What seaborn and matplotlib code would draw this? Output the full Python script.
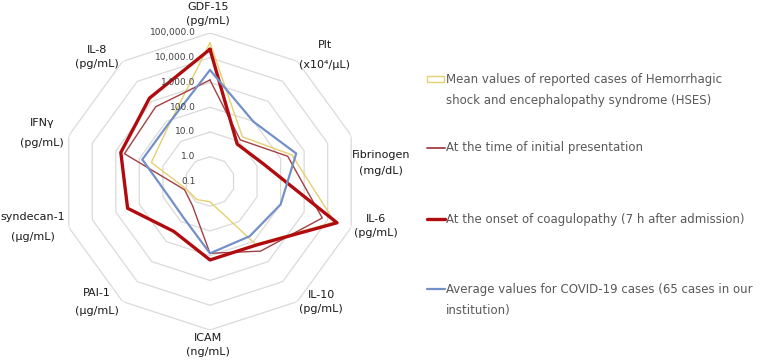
import numpy as np
import pandas as pd
import matplotlib.pyplot as plt
import seaborn as sns
from matplotlib.lines import Line2D
from matplotlib.patches import Rectangle
from matplotlib.ticker import NullLocator

# === Settings ===
sns.set_theme(style="white")
plt.rcParams['font.family'] = ['DejaVu Sans']

# === Data (log scale) ===
markers = ['GDF-15', 'Plt', 'Fibrinogen', 'IL-6', 'IL-10',
           'ICAM', 'PAI-1', 'syndecan-1', 'IFNγ', 'IL-8']
axis_labels = ['GDF-15\n(pg/mL)', 'Plt\n(x10⁴/μL)', 'Fibrinogen\n(mg/dL)',
               'IL-6\n(pg/mL)', 'IL-10\n(pg/mL)', 'ICAM\n(ng/mL)',
               'PAI-1\n(μg/mL)', 'syndecan-1\n(μg/mL)', 'IFNγ\n(pg/mL)',
               'IL-8\n(pg/mL)']

hses = [40000, 17, 300, 20000, 135, 0.66, 0.8, 1.0, 31, 66]
initial = [1260, 12, 200, 5900, 300, 80, 1.6, 1.2, 430, 540]
onset = [22000, 7.4, 19, 25000, 150, 148, 31, 316, 615, 1450]
covid = [3200, 97, 460, 100, 54, 80, 6.5, 6.2, 75, 74]

series_names = [
    'Mean values of reported cases of Hemorrhagic\nshock and encephalopathy syndrome (HSES)',
    'At the time of initial presentation',
    'At the onset of coagulopathy (7 h after admission)',
    'Average values for COVID-19 cases (65 cases in our\ninstitution)',
]
series_values = [hses, initial, onset, covid]
series_colors = ['#E5D06E', '#A43F43', '#B00C10', '#7391C8']
series_widths = [1.0, 1.0, 2.4, 1.6]

ring_levels = [0.1, 1, 10, 100, 1000, 10000, 100000]
ring_labels = ['0.1', '1.0', '10.0', '100.0', '1,000.0', '10,000.0', '100,000.0']

# === Build long table (closed loops) ===
n = len(markers)
angles = np.linspace(0, 2 * np.pi, n, endpoint=False)
closed = np.append(angles, angles[0])
rows = []
for name, vals in zip(series_names, series_values):
    for th, v in zip(closed, vals + vals[:1]):
        rows.append({'series': name, 'theta': th, 'value': v})
df = pd.DataFrame(rows)

# === Figure ===
fig = plt.figure(figsize=(7.6, 3.61), dpi=100)
ax = fig.add_axes([0.0809, 0.0859, 0.3908, 0.8227], projection='polar')
ax.set_theta_offset(np.pi / 2)
ax.set_theta_direction(-1)
ax.set_rscale('log')
ax.set_rlim(0.1, 100000)
ax.grid(False)
ax.spines['polar'].set_visible(False)
ax.set_xticks([])
ax.yaxis.set_major_locator(NullLocator())
ax.yaxis.set_minor_locator(NullLocator())

# decagon gridlines
for lvl in ring_levels[1:]:
    ax.plot(closed, [lvl] * (n + 1), color='#DADADA', lw=0.9, zorder=1)

# series
for name, color, lw in zip(series_names, series_colors, series_widths):
    sub = df[df['series'] == name]
    sns.lineplot(data=sub, x='theta', y='value', sort=False, estimator=None,
                 color=color, lw=lw, ax=ax, zorder=3)
ax.set_xlabel('')
ax.set_ylabel('')
ax.set_rlim(0.1, 100000)

# radial tick labels
for lvl, lab in zip(ring_levels, ring_labels):
    ax.annotate(lab, xy=(0, lvl), xytext=(-10.5, 0), textcoords='offset points',
                ha='right', va='center', fontsize=6.5, color='#404040', zorder=5)

# category labels
label_pos = [(0.493, 1.064), (0.887, 0.926), (1.076, 0.562), (1.059, 0.350),
             (0.874, 0.094), (0.493, -0.051), (0.120, 0.094), (-0.096, 0.347),
             (-0.066, 0.663), (0.120, 0.919)]
label_spacing = [1.45, 2.2, 1.65, 1.6, 1.6, 1.45, 2.1, 2.2, 2.2, 1.45]
for lab, (x, y), ls in zip(axis_labels, label_pos, label_spacing):
    ax.text(x, y, lab, transform=ax.transAxes, ha='center', va='center',
            multialignment='center', fontsize=8, color='#1a1a1a',
            linespacing=ls, clip_on=False)

# === Legend (Excel style, spread out on the right) ===
W, H = 760, 361
legend_y = [79, 148, 219, 289]
for i, (name, color, lw) in enumerate(zip(series_names, series_colors, series_widths)):
    y = legend_y[i]
    if i == 0:
        fig.add_artist(Rectangle((427 / W, 1 - (y + 3) / H), 17 / W, 6 / H,
                                 transform=fig.transFigure, fill=False,
                                 edgecolor=color, lw=1.0))
    else:
        fig.add_artist(Line2D([427 / W, 445 / W], [1 - y / H, 1 - y / H],
                              transform=fig.transFigure, color=color,
                              lw=max(lw, 1.3)))
    fig.text(446 / W, 1 - (y - 6.5) / H, name, ha='left', va='top',
             fontsize=8.5, color='#595959', linespacing=1.85)

fig.savefig('out.png', dpi=100)
print("Plot saved.")
